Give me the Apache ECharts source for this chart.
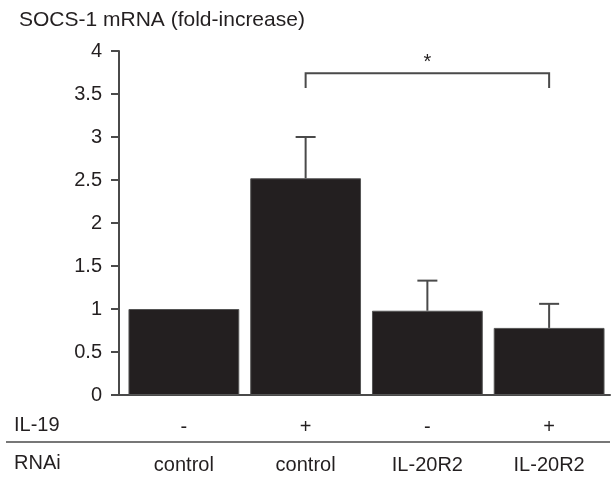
<!DOCTYPE html>
<html>
<head>
<meta charset="utf-8">
<script src="https://cdn.jsdelivr.net/npm/echarts@6/dist/echarts.min.js"></script>
<style>html,body{margin:0;padding:0;background:#fff}#c{width:615px;height:480px}</style>
</head>
<body>
<div id="c"></div>
<script>
var categories = ['c1', 'c2', 'c3', 'c4'];
var il19Labels = ['-', '+', '-', '+'];
var rnaiLabels = ['control', 'control', 'IL-20R2', 'IL-20R2'];
var values = [1.0, 2.52, 0.98, 0.78];
var errorTops = [1.0, 3.0, 1.33, 1.06];
var yTicks = ['0', '0.5', '1', '1.5', '2', '2.5', '3', '3.5', '4'];
var sigFrom = [1];
var sigTo = [3];
var sigTop = [3.74];
var sigDrop = [3.57];
var sigText = ['*'];

var ink = '#231f20';
var axisCol = '#4a4a4a';
var font = '"Liberation Sans", Arial, Helvetica, sans-serif';

var chart = echarts.init(document.getElementById('c'));
var option = {
  animation: false,
  title: {
    text: 'SOCS-1 mRNA (fold-increase)',
    left: 14, top: 5,
    textStyle: { fontFamily: font, fontSize: 21, fontWeight: 'normal', color: ink }
  },
  grid: { left: 123, right: 5, top: 51, bottom: 85 },
  xAxis: {
    type: 'category',
    data: categories,
    axisLine: { lineStyle: { color: axisCol, width: 2 } },
    axisTick: { alignWithLabel: true, length: 6, lineStyle: { color: axisCol, width: 2 } },
    axisLabel: {
      margin: 13,
      formatter: function (v, i) {
        return '{a|' + il19Labels[i] + '}\n{b|' + rnaiLabels[i] + '}';
      },
      rich: {
        a: { fontFamily: font, fontSize: 20, color: ink, lineHeight: 38 },
        b: { fontFamily: font, fontSize: 20, color: ink, lineHeight: 38 }
      }
    }
  },
  yAxis: {
    type: 'value',
    min: 0, max: 4, interval: 0.5,
    offset: 4,
    splitLine: { show: false },
    axisLine: { show: true, lineStyle: { color: axisCol, width: 2 } },
    axisTick: { show: true, length: 8, lineStyle: { color: axisCol, width: 2 } },
    axisLabel: {
      margin: 17,
      fontFamily: font, fontSize: 20, color: ink,
      formatter: function (v) { return yTicks[Math.round(v / 0.5)]; }
    }
  },
  graphic: [
    { type: 'text', left: 14, top: 415, style: { text: 'IL-19', font: '20px ' + font, fill: ink } },
    { type: 'text', left: 14, top: 453, style: { text: 'RNAi', font: '20px ' + font, fill: ink } },
    { type: 'line', shape: { x1: 6, y1: 442, x2: 610, y2: 442 }, style: { stroke: axisCol, lineWidth: 1.5 } },
    { type: 'line', shape: { x1: 113, y1: 395, x2: 124, y2: 395 }, style: { stroke: axisCol, lineWidth: 2 } }
  ],
  series: [
    {
      type: 'bar',
      data: values,
      barCategoryGap: '9%',
      itemStyle: { color: ink, borderColor: '#555', borderWidth: 1 },
      z: 2
    },
    {
      type: 'custom',
      data: errorTops.map(function (t, i) { return [i, values[i], t]; }),
      renderItem: function (params, api) {
        var i = api.value(0);
        var p0 = api.coord([i, api.value(1)]);
        var p1 = api.coord([i, api.value(2)]);
        if (Math.abs(p0[1] - p1[1]) < 1) return null;
        var hw = 10;
        return {
          type: 'group',
          children: [
            { type: 'line', shape: { x1: p0[0], y1: p0[1], x2: p1[0], y2: p1[1] }, style: { stroke: axisCol, lineWidth: 2 } },
            { type: 'line', shape: { x1: p1[0] - hw, y1: p1[1], x2: p1[0] + hw, y2: p1[1] }, style: { stroke: axisCol, lineWidth: 2 } }
          ]
        };
      },
      z: 3
    },
    {
      type: 'custom',
      data: sigFrom.map(function (f, i) { return [f, sigTo[i], sigTop[i], sigDrop[i]]; }),
      renderItem: function (params, api) {
        var a = api.coord([api.value(0), api.value(2)]);
        var b = api.coord([api.value(1), api.value(2)]);
        var a2 = api.coord([api.value(0), api.value(3)]);
        var b2 = api.coord([api.value(1), api.value(3)]);
        return {
          type: 'group',
          children: [
            { type: 'polyline', shape: { points: [[a2[0], a2[1]], [a[0], a[1]], [b[0], b[1]], [b2[0], b2[1]]] }, style: { stroke: axisCol, lineWidth: 2, fill: null } },
            { type: 'text', x: (a[0] + b[0]) / 2, y: a[1] - 11, style: { text: sigText[params.dataIndex], font: '20px ' + font, fill: ink, align: 'center', verticalAlign: 'middle' } }
          ]
        };
      },
      z: 3
    }
  ]
};
chart.setOption(option);
</script>
</body>
</html>
